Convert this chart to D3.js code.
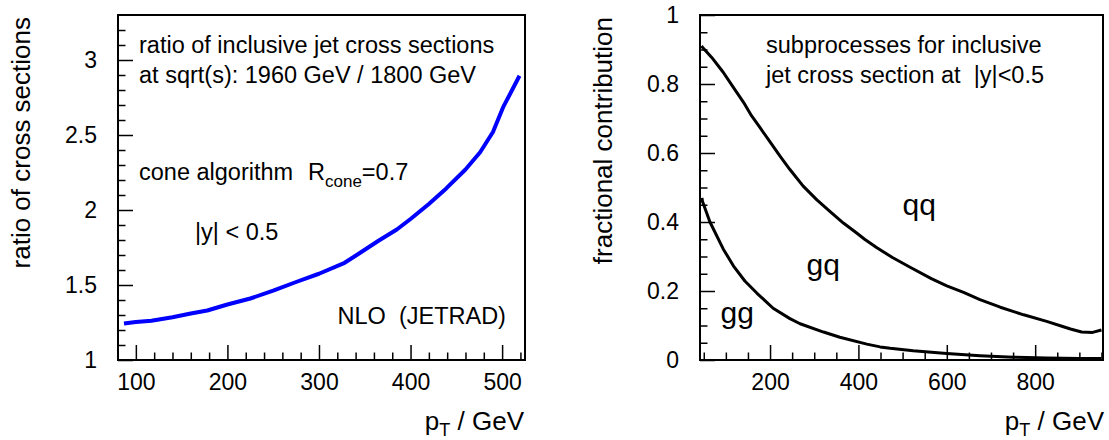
<!DOCTYPE html>
<html>
<head>
<meta charset="utf-8">
<script src="https://cdn.jsdelivr.net/npm/d3@7"></script>
<style>
  body { margin: 0; background: #fff; }
  svg text { font-family: "Liberation Sans", Arial, Helvetica, sans-serif; fill: #000; }
</style>
</head>
<body>
<div id="chart"></div>
<script>
// left panel: ratio of cross sections 1960 / 1800 GeV
const ratioPt  = [87, 100, 117, 140, 160, 178, 200, 225, 250, 275, 300, 328, 345, 365, 385, 400, 420, 439, 460, 476, 490, 501, 519];
const ratioVal = [1.243, 1.253, 1.262, 1.285, 1.31, 1.33, 1.37, 1.41, 1.462, 1.52, 1.575, 1.648, 1.715, 1.795, 1.87, 1.94, 2.04, 2.144, 2.27, 2.385, 2.52, 2.684, 2.895];
const ratioXTicks = [100, 200, 300, 400, 500];
const ratioYTicks = [1, 1.5, 2, 2.5, 3];

// right panel: subprocess fractions (upper curve = gg + gq, lower = gg)
const fracPt    = [45, 47.5, 68, 94, 117, 140, 158, 177, 200, 223, 245, 275, 306, 336, 366, 396, 414, 441, 477, 517, 565, 600, 638, 675, 721, 774, 826, 864, 880, 905, 930, 950];
const fracUpper = [0.91, 0.906, 0.877, 0.834, 0.79, 0.747, 0.708, 0.674, 0.632, 0.59, 0.552, 0.504, 0.464, 0.43, 0.397, 0.368, 0.35, 0.326, 0.297, 0.269, 0.236, 0.215, 0.196, 0.175, 0.153, 0.131, 0.112, 0.0965, 0.09, 0.081, 0.08, 0.087];
const ggPt  = [46, 47, 64, 94, 117, 143, 170, 207, 245, 268, 321, 358, 419, 449, 472, 524, 600, 675, 751, 826, 902, 950];
const ggVal = [0.47, 0.46, 0.4, 0.322, 0.273, 0.229, 0.194, 0.15, 0.12, 0.105, 0.081, 0.066, 0.046, 0.038, 0.034, 0.027, 0.019, 0.0125, 0.008, 0.006, 0.004, 0.004];
const fracXTicks = [200, 400, 600, 800];
const fracYTicks = [0, 0.2, 0.4, 0.6, 0.8, 1];

const ratioNotes = ["ratio of inclusive jet cross sections", "at sqrt(s): 1960 GeV / 1800 GeV", "cone algorithm", "|y| < 0.5", "NLO  (JETRAD)"];
const fracNotes = ["subprocesses for inclusive", "jet cross section at  |y|<0.5"];
const fracLabels = ["qq", "gq", "gg"];

const W = 1109, H = 440;
const svg = d3.select("#chart").append("svg").attr("width", W).attr("height", H);
svg.append("rect").attr("width", W).attr("height", H).attr("fill", "#fff");

function axes(g, x, y, o) {
  const y0 = y.range()[0], x0 = x.range()[0];
  const bottom = (vals, size, fmt) => g.append("g")
    .attr("transform", `translate(0,${y0})`)
    .call(d3.axisBottom(x).tickValues(vals).tickSize(-size).tickPadding(14).tickFormat(fmt));
  const left = (vals, size, fmt) => g.append("g")
    .attr("transform", `translate(${x0},0)`)
    .call(d3.axisLeft(y).tickValues(vals).tickSize(-size).tickPadding(21).tickFormat(fmt));

  bottom(o.xMinor, 7.5, "");
  bottom(o.xMajor, 15, d3.format("d"));
  left(o.yMinor, 7.5, "");
  left(o.yMajor, 15, o.yFmt);

  g.selectAll(".domain").remove();
  g.selectAll(".tick line").attr("stroke", "#000").attr("stroke-width", 1.5);
  g.selectAll(".tick text").attr("font-size", 23).attr("fill", "#000");

  g.append("rect")
    .attr("x", x.range()[0]).attr("y", y.range()[1])
    .attr("width", x.range()[1] - x.range()[0])
    .attr("height", y0 - y.range()[1])
    .attr("fill", "none").attr("stroke", "#000").attr("stroke-width", 2);
}

function titles(g, xEnd, yBase, ytext) {
  const xt = g.append("text").attr("x", xEnd).attr("y", 430).attr("text-anchor", "end").attr("font-size", 26);
  xt.append("tspan").text("p");
  xt.append("tspan").attr("font-size", 18).attr("dy", 5.5).text("T");
  xt.append("tspan").attr("dy", -5.5).style("white-space", "pre").text(" / GeV");

  g.append("text")
    .attr("transform", `translate(${yBase},17) rotate(-90)`)
    .attr("text-anchor", "end").attr("font-size", 26)
    .text(ytext);
}

// ---- left panel
{
  const g = svg.append("g");
  const x = d3.scaleLinear().domain([80.5, 525]).range([118, 525]);
  const y = d3.scaleLinear().domain([1, 3.3]).range([360, 15]);

  axes(g, x, y, {
    xMajor: ratioXTicks,
    xMinor: d3.range(100, 525, 20).filter(v => v % 100 !== 0),
    yMajor: ratioYTicks,
    yMinor: d3.range(11, 33).filter(v => v % 5 !== 0).map(v => v / 10),
    yFmt: d => String(d)
  });

  g.append("path")
    .datum(ratioPt.map((p, i) => [p, ratioVal[i]]))
    .attr("d", d3.line().x(d => x(d[0])).y(d => y(d[1])))
    .attr("fill", "none").attr("stroke", "#0000ff").attr("stroke-width", 4)
    .attr("stroke-linejoin", "round");

  const note = (t, px, py) => g.append("text").attr("x", px).attr("y", py)
    .attr("font-size", 23.5).style("white-space", "pre").text(t);
  note(ratioNotes[0], 139, 53);
  note(ratioNotes[1], 139, 83);
  note(ratioNotes[2], 139, 179.5);
  const r = g.append("text").attr("x", 308).attr("y", 179.5).attr("font-size", 23.5);
  r.append("tspan").text("R");
  r.append("tspan").attr("font-size", 17).attr("dy", 7.5).text("cone");
  r.append("tspan").attr("dy", -7.5).text("=0.7");
  note(ratioNotes[3], 195, 239.5);
  note(ratioNotes[4], 337.5, 324);

  titles(g, 524, 30, "ratio of cross sections");
}

// ---- right panel
{
  const g = svg.append("g");
  const x = d3.scaleLinear().domain([41.5, 953.5]).range([700, 1103]);
  const y = d3.scaleLinear().domain([0, 1]).range([360, 15]);

  axes(g, x, y, {
    xMajor: fracXTicks,
    xMinor: d3.range(50, 955, 50).filter(v => v % 200 !== 0),
    yMajor: fracYTicks,
    yMinor: d3.range(1, 20).filter(v => v % 4 !== 0).map(v => v / 20),
    yFmt: d => String(+d.toFixed(1))
  });

  const line = d3.line().x(d => x(d[0])).y(d => y(d[1]));
  g.append("path")
    .datum(fracPt.map((p, i) => [p, fracUpper[i]]))
    .attr("d", line)
    .attr("fill", "none").attr("stroke", "#000").attr("stroke-width", 3)
    .attr("stroke-linejoin", "round");
  g.append("path")
    .datum(ggPt.map((p, i) => [p, ggVal[i]]))
    .attr("d", line)
    .attr("fill", "none").attr("stroke", "#000").attr("stroke-width", 3)
    .attr("stroke-linejoin", "round");

  const note = (t, px, py, fs) => g.append("text").attr("x", px).attr("y", py)
    .attr("font-size", fs).style("white-space", "pre").text(t);
  note(fracNotes[0], 766, 53, 23.5);
  note(fracNotes[1], 766, 82.5, 23.5);
  note(fracLabels[0], 902.5, 215, 30);
  note(fracLabels[1], 806.5, 274.5, 30);
  note(fracLabels[2], 720.5, 323, 30);

  titles(g, 1104, 612, "fractional contribution");
}
</script>
</body>
</html>
